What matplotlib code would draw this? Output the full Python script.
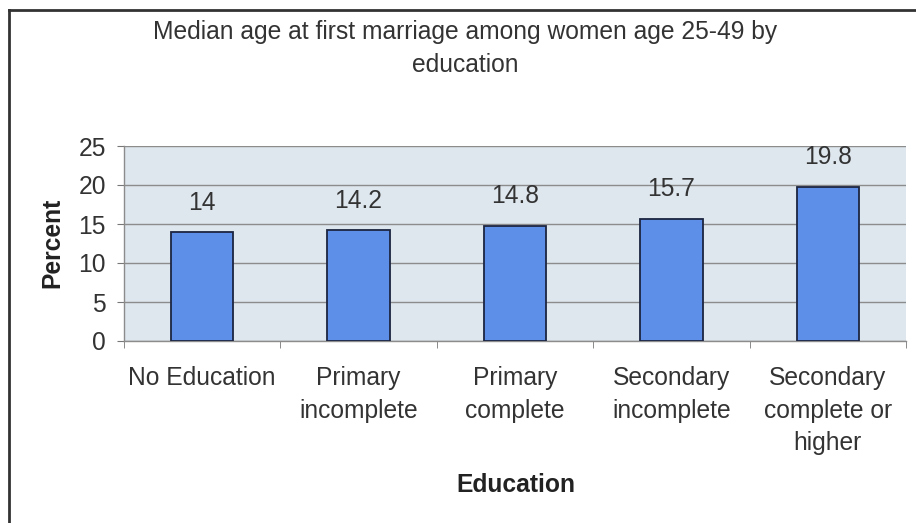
import matplotlib
matplotlib.use("Agg")
import matplotlib.pyplot as plt
from matplotlib.lines import Line2D
import numpy as np

plt.rcParams['font.family'] = ['Liberation Sans', 'DejaVu Sans']

categories = ["No Education", "Primary\nincomplete", "Primary\ncomplete",
              "Secondary\nincomplete", "Secondary\ncomplete or\nhigher"]
values = [14, 14.2, 14.8, 15.7, 19.8]
value_labels = ["14", "14.2", "14.8", "15.7", "19.8"]
y_ticks = [0, 5, 10, 15, 20, 25]

FS = 17.7
W, H = 916, 523
fig = plt.figure(figsize=(W / 100, H / 100), dpi=100)
fig.patch.set_facecolor("white")

ax = fig.add_axes([124 / W, 1 - 341 / H, (906 - 124) / W, (341 - 146) / H])
ax.set_facecolor("#dfe7ee")

x = np.arange(len(categories))
ax.bar(x, values, width=0.4, color="#5d8fe8", edgecolor="#1c2540",
       linewidth=1.3, zorder=3)

for xi, v, lab in zip(x, values, value_labels):
    ax.annotate(lab, (xi, v), xytext=(0, 21), textcoords="offset points",
                ha="center", va="center", fontsize=FS, color="#333333")

ax.set_xlim(-0.5, len(categories) - 0.5)
ax.set_ylim(0, 25)
ax.set_yticks(y_ticks)
ax.set_yticklabels([str(t) for t in y_ticks], fontsize=FS, color="#333333")
ax.set_xticks(x)
ax.set_xticklabels(categories, fontsize=FS, color="#333333", linespacing=1.45)
ax.set_xticks(np.arange(len(categories) + 1) - 0.5, minor=True)

ax.tick_params(axis="x", which="major", length=0, pad=18)
ax.tick_params(axis="x", which="minor", length=5, color="#777777", direction="out")
ax.tick_params(axis="y", which="major", length=5, color="#777777", pad=8)

ax.grid(axis="y", color="#8c8c8c", linewidth=1.0, zorder=1)
for side in ("top", "right"):
    ax.spines[side].set_visible(False)
for side in ("left", "bottom"):
    ax.spines[side].set_color("#8c8c8c")
    ax.spines[side].set_linewidth(1.0)

# Title and axis titles
fig.text(465 / W, 1 - 32 / H, "Median age at first marriage among women age 25-49 by",
         ha="center", va="center", fontsize=FS, color="#333333")
fig.text(465 / W, 1 - 65 / H, "education", ha="center", va="center",
         fontsize=FS, color="#333333")
fig.text(516 / W, 1 - 485 / H, "Education", ha="center", va="center",
         fontsize=FS, color="#222222", fontweight="bold")
fig.text(52 / W, 1 - 243 / H, "Percent", ha="center", va="center",
         rotation=90, fontsize=FS, color="#222222", fontweight="bold")

# Chart frame (top and left edges)
fig.add_artist(Line2D([9 / W, 1], [1 - 10 / H, 1 - 10 / H], color="#333333",
                      linewidth=2, transform=fig.transFigure))
fig.add_artist(Line2D([9 / W, 9 / W], [0, 1 - 10 / H], color="#333333",
                      linewidth=2, transform=fig.transFigure))

fig.savefig("out.png", dpi=100)
